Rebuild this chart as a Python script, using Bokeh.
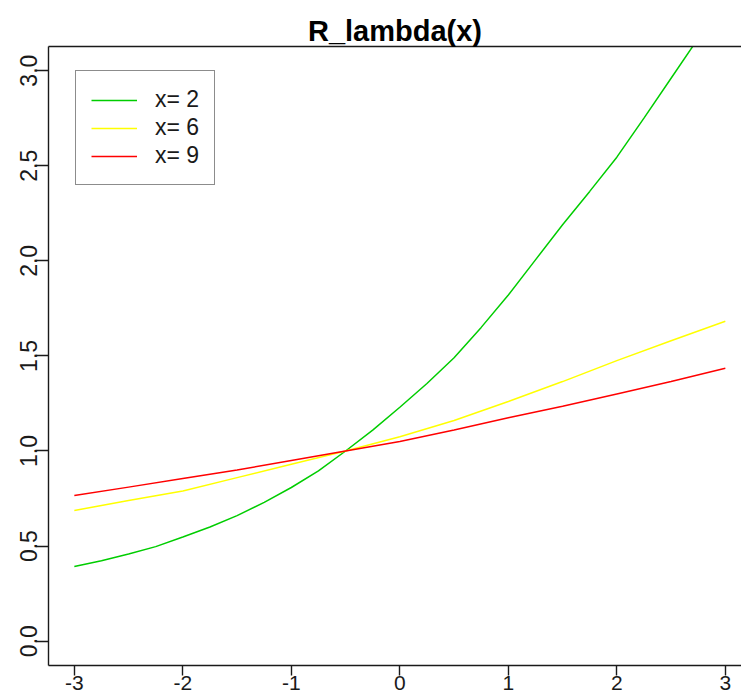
from bokeh.plotting import figure
from bokeh.models import (Range1d, LinearAxis, FixedTicker, PrintfTickFormatter,
                          Legend, LegendItem)
from bokeh.embed import file_html
from bokeh.resources import INLINE

# lambda grid for the steep curve (x = 2) and for the flatter ones
x_fine = [-3, -2.75, -2.5, -2.25, -2, -1.75, -1.5, -1.25, -1, -0.75, -0.5, -0.25,
          0, 0.25, 0.5, 0.75, 1, 1.25, 1.5, 1.75, 2, 2.25, 2.5, 2.75, 3]
x_coarse = [-3, -2.5, -2, -1.5, -1, -0.5, 0, 0.5, 1, 1.5, 2, 2.5, 3]

r_x2 = [0.393, 0.423, 0.458, 0.497, 0.548, 0.600, 0.660, 0.730, 0.808, 0.895,
        1.000, 1.110, 1.230, 1.355, 1.490, 1.650, 1.820, 2.005, 2.190, 2.365,
        2.545, 2.750, 2.960, 3.170, 3.400]
r_x6 = [0.687, 0.74, 0.79, 0.86, 0.93, 1.0, 1.075, 1.16, 1.26, 1.365, 1.475, 1.58, 1.682]
r_x9 = [0.766, 0.81, 0.855, 0.90, 0.95, 1.0, 1.05, 1.11, 1.175, 1.235, 1.30, 1.365, 1.435]

series_labels = ["x= 2", "x= 6", "x= 9"]
series_colors = ["#00CD00", "#FFFF00", "#FF0000"]

x_ticks = [-3, -2, -1, 0, 1, 2, 3]
x_tick_labels = ["-3", "-2", "-1", "0", "1", "2", "3"]
y_ticks = [0, 0.5, 1.0, 1.5, 2.0, 2.5, 3.0]

FONT = "Liberation Sans"
INK = "#1a1a1a"

p = figure(width=741, height=699, output_backend="svg", toolbar_location=None,
           x_range=Range1d(-3.238, 3.149), y_range=Range1d(-0.128, 3.127),
           x_axis_location=None, y_axis_location=None,
           min_border_left=48, min_border_right=0, min_border_top=46,
           min_border_bottom=34)
p.background_fill_color = "white"
p.border_fill_color = "white"
p.outline_line_color = None
p.xgrid.visible = False
p.ygrid.visible = False

# title
p.title.text = "R_lambda(x)"
p.title.align = "center"
p.title.text_font = FONT
p.title.text_font_size = "29px"
p.title.text_font_style = "bold"
p.title.text_color = "black"
p.title.standoff = 0

# left axis with labels reading upwards
yax = LinearAxis(ticker=FixedTicker(ticks=y_ticks),
                 formatter=PrintfTickFormatter(format="%.1f"))
yax.major_label_orientation = "vertical"
yax.major_tick_out = 13
yax.major_tick_in = 0
yax.minor_tick_out = 0
yax.minor_tick_in = 0
yax.major_label_standoff = -2
yax.major_label_text_font = FONT
yax.major_label_text_font_size = "23px"
yax.major_label_text_color = INK
yax.axis_line_color = INK
yax.axis_line_width = 1.4
yax.major_tick_line_color = INK
yax.major_tick_line_width = 1.4
p.add_layout(yax, "left")

# bottom axis
xax = LinearAxis(ticker=FixedTicker(ticks=x_ticks))
xax.major_label_overrides = {t: s for t, s in zip(x_ticks, x_tick_labels)}
xax.major_tick_out = 10
xax.major_tick_in = 0
xax.minor_tick_out = 0
xax.minor_tick_in = 0
xax.major_label_standoff = 0
xax.major_label_text_font = FONT
xax.major_label_text_font_size = "21px"
xax.major_label_text_color = INK
xax.axis_line_color = INK
xax.axis_line_width = 1.4
xax.major_tick_line_color = INK
xax.major_tick_line_width = 1.4
p.add_layout(xax, "below")

# top edge of the box
tax = LinearAxis(ticker=FixedTicker(ticks=[]))
tax.major_tick_out = 0
tax.major_tick_in = 0
tax.minor_tick_out = 0
tax.minor_tick_in = 0
tax.major_label_text_font_size = "0px"
tax.major_label_standoff = 0
tax.axis_line_color = INK
tax.axis_line_width = 1.4
p.add_layout(tax, "above")

renderers = []
for xs, ys, col in zip([x_fine, x_coarse, x_coarse], [r_x2, r_x6, r_x9], series_colors):
    r = p.line(xs, ys, line_color=col, line_width=1.5)
    renderers.append(r)

legend = Legend(items=[LegendItem(label=lab, renderers=[r])
                       for lab, r in zip(series_labels, renderers)])
legend.location = (27, 480)
legend.margin = 0
legend.padding = 15
legend.spacing = 1
legend.glyph_width = 46
legend.glyph_height = 26
legend.label_height = 26
legend.label_standoff = 18
legend.label_text_font = FONT
legend.label_text_font_size = "23px"
legend.label_text_color = INK
legend.border_line_color = INK
legend.border_line_width = 1.3
legend.background_fill_color = "white"
legend.background_fill_alpha = 1.0
p.add_layout(legend, "center")

open("out.html", "w").write(file_html(p, INLINE))
